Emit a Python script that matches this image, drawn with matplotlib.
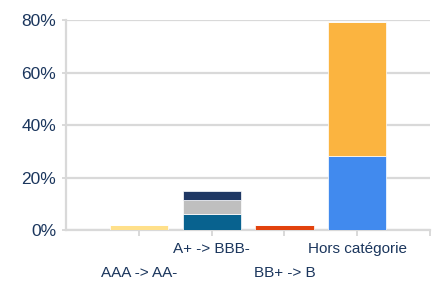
import matplotlib
matplotlib.use("Agg")
import matplotlib.pyplot as plt

categories = ["AAA -> AA-", "A+ -> BBB-", "BB+ -> B", "Hors catégorie"]
# stacked segments, bottom to top (percent)
seg_bottom = [2.0, 6.1, 2.0, 28.3]
seg_middle = [0.0, 5.2, 0.0, 51.0]
seg_top = [0.0, 3.4, 0.0, 0.0]
colors_bottom = ["#FFE08A", "#08628F", "#E2420D", "#418AEE"]
colors_middle = ["#FFE08A", "#BFBFBF", "#E2420D", "#FBB440"]
colors_top = ["#FFE08A", "#1F3864", "#E2420D", "#FBB440"]
yticks = [0, 20, 40, 60, 80]

plt.rcParams["font.family"] = ["Liberation Sans", "DejaVu Sans"]
text_color = "#1B365D"
grid_color = "#D9D9D9"

fig = plt.figure(figsize=(4.38, 2.82), dpi=100)
ax = fig.add_axes([0.1507, 0.1844, 0.8313, 0.7446])

x = list(range(len(categories)))
width = 0.8
b2 = [a + b for a, b in zip(seg_bottom, seg_middle)]
ax.bar(x, seg_bottom, width, color=colors_bottom, edgecolor="white", linewidth=0.5, zorder=3)
ax.bar(x, seg_middle, width, bottom=seg_bottom, color=colors_middle, edgecolor="white", linewidth=0.5, zorder=3)
ax.bar(x, seg_top, width, bottom=b2, color=colors_top, edgecolor="white", linewidth=0.5, zorder=3)

ax.set_xlim(-1, 4)
ax.set_ylim(0, 80)
ax.set_yticks(yticks)
ax.set_yticklabels([f"{v}%" for v in yticks], fontsize=12.5, color=text_color)
ax.yaxis.grid(True, color=grid_color, linewidth=1.6, zorder=0)
ax.tick_params(axis="y", length=3, width=1.4, color=grid_color, pad=4)

ax.set_xticks([0, 1, 2, 3, 4])
ax.set_xticklabels([])
ax.tick_params(axis="x", length=4, width=1.4, color=grid_color)

# staggered category labels (two rows)
for i, lab in enumerate(categories):
    off = -9 if i % 2 == 1 else -26
    ax.annotate(lab, xy=(i, 0), xycoords=("data", "axes fraction"),
                xytext=(0, off), textcoords="offset points",
                ha="center", va="top", fontsize=11, color=text_color)

for side in ["top", "right"]:
    ax.spines[side].set_visible(False)
for side in ["left", "bottom"]:
    ax.spines[side].set_color(grid_color)
    ax.spines[side].set_linewidth(1.6)

fig.savefig("out.png", dpi=100)
